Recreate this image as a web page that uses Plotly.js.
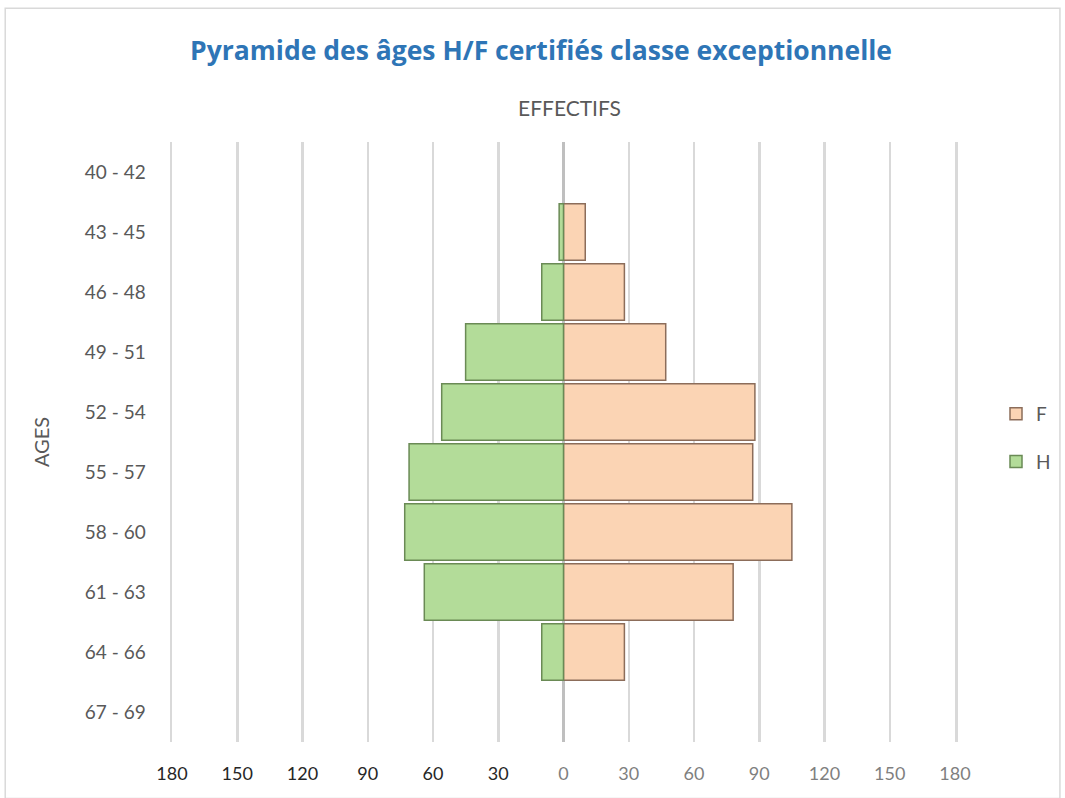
<!DOCTYPE html>
<html>
<head>
<meta charset="utf-8">
<script src="https://cdn.plot.ly/plotly-3.0.1.min.js"></script>
<style>html,body{margin:0;padding:0;background:#fff;}#chart{width:1065px;height:798px;}</style>
</head>
<body>
<div id="chart"></div>
<script>
var ages = ["40 - 42","43 - 45","46 - 48","49 - 51","52 - 54","55 - 57","58 - 60","61 - 63","64 - 66","67 - 69"];
var femmes = [0, 10, 28, 47, 88, 87, 105, 78, 28, 0];
var hommes = [0, 2, 10, 45, 56, 71, 73, 64, 10, 0];
var tickVals = [-180,-150,-120,-90,-60,-30,0,30,60,90,120,150,180];
var tickLabels = ["180","150","120","90","60","30","0","30","60","90","120","150","180"];

var font = "Lato, 'Open Sans', sans-serif";
var tickText = tickLabels.map(function(t, i){
  var c = tickVals[i] < 0 ? '#262626' : '#7f7f7f';
  return '<span style="color:' + c + '">' + t + '</span>';
});
function nz(v){ return v === 0 ? null : v; }

var traces = [
  {type:'bar', orientation:'h', name:'F', legendgroup:'f', y:ages, x:femmes.map(nz),
   marker:{color:'#fbd4b4', line:{color:'#8c6d5a', width:1.5}}, hoverinfo:'x+y'},
  {type:'bar', orientation:'h', name:'H', legendgroup:'h', y:ages, x:hommes.map(function(v){return nz(-v);}),
   marker:{color:'#b3dc99', line:{color:'#6a8a55', width:1.5}}, hoverinfo:'x+y'}
];

var layout = {
  width:1065, height:798,
  paper_bgcolor:'#fff', plot_bgcolor:'#fff',
  margin:{l:172, r:110, t:142, b:56, autoexpand:false},
  barmode:'overlay', bargap:0.06,
  title:{text:'<b>Pyramide des âges H/F certifiés classe exceptionnelle</b>', x:0.508, xanchor:'center', y:0.937, yanchor:'middle',
         font:{family:"'Open Sans', sans-serif", size:26.5, color:'#2e75b6'}},
  xaxis:{range:[-180,180], tickvals:tickVals, ticktext:tickText, showgrid:true, gridcolor:'#d9d9d9', gridwidth:2.5,
         zeroline:true, zerolinecolor:'#bfbfbf', zerolinewidth:2.5, showline:false, ticks:'',
         ticklabelstandoff:19,
         tickfont:{family:font, size:18, color:'#595959'}, fixedrange:true},
  yaxis:{categoryorder:'array', categoryarray:ages, autorange:'reversed', showgrid:false, zeroline:false,
         showline:true, mirror:true, linecolor:'#d9d9d9', linewidth:2.5,
         ticks:'', ticklen:0, ticklabelstandoff:20, tickfont:{family:font, size:19, color:'#595959'},
         title:{text:'AGES', font:{family:font, size:20, color:'#595959'}, standoff:30}, fixedrange:true},
  legend:{xref:'container', yref:'container', x:996/1065, y:1-438/798, xanchor:'left', yanchor:'middle',
          font:{family:font, size:19, color:'#595959'},
          itemwidth:30, tracegroupgap:20, bgcolor:'rgba(0,0,0,0)'},
  annotations:[{text:'EFFECTIFS', xref:'paper', yref:'paper', x:0.508, y:1.058, showarrow:false,
                font:{family:font, size:21, color:'#595959'}, xanchor:'center', yanchor:'middle'}],
  shapes:[{type:'rect', xref:'paper', yref:'paper', x0:-0.213, x1:1.134, y0:-0.094, y1:1.223,
           line:{color:'#d9d9d9', width:1.5}, fillcolor:'rgba(0,0,0,0)', layer:'below'}],
  showlegend:true
};

Plotly.newPlot('chart', traces, layout, {displayModeBar:false, staticPlot:true});
</script>
</body>
</html>
